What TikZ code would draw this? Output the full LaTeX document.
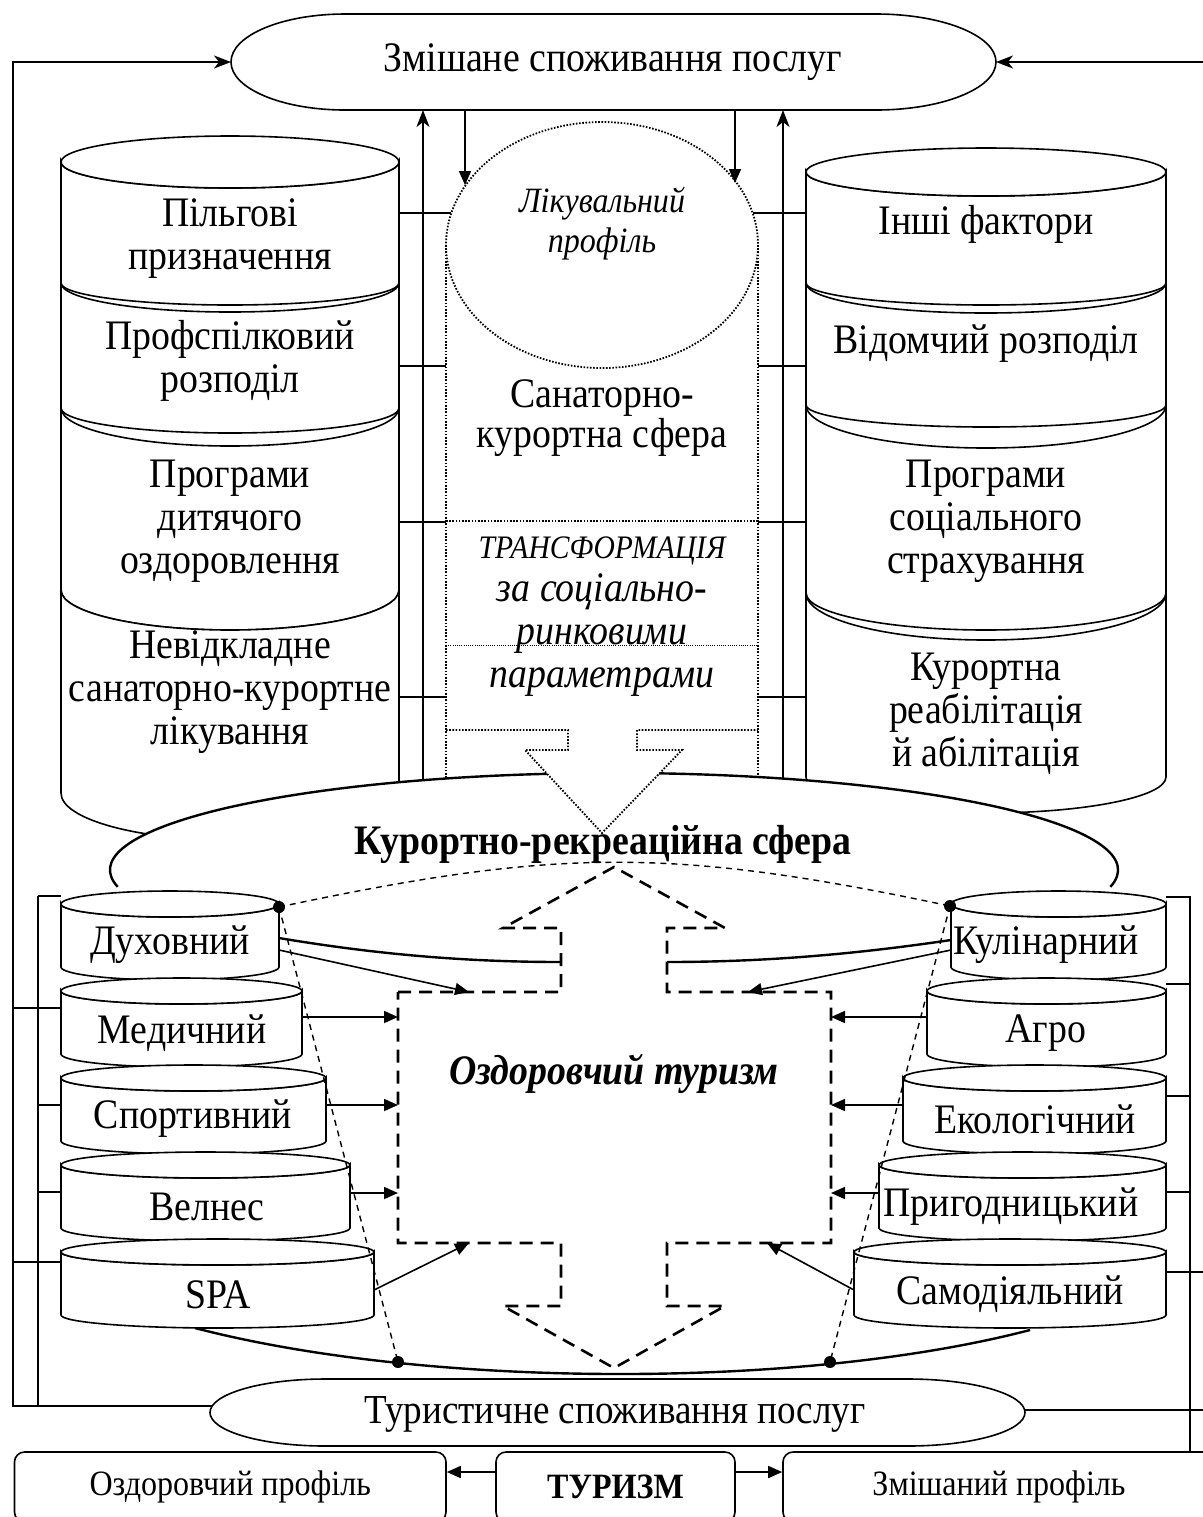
\documentclass[tikz,border=0pt]{standalone}
\usepackage{fontspec}
\setmainfont{Liberation Serif}[FakeStretch=0.9]
\usetikzlibrary{arrows.meta}

\tikzset{
  lbl/.style={font=\fontsize{21}{21.5}\selectfont},
  lblit/.style={font=\fontsize{21}{21.5}\selectfont\itshape},
  lblb/.style={font=\fontsize{21}{21.5}\selectfont\bfseries},
  lblbi/.style={font=\fontsize{21}{21.5}\selectfont\bfseries\itshape},
  lblsm/.style={font=\fontsize{17.8}{20}\selectfont},
  shp/.style={draw, fill=white},
  stl/.style={-{Stealth[length=8.5pt,width=6.5pt,inset=2.5pt]}},
  tri/.style={-{Triangle[length=7pt,width=6pt]}},
  dotln/.style={dash pattern=on 0.8pt off 0.8pt, line width=0.9pt},
  fineln/.style={dash pattern=on 0.5pt off 0.6pt, line width=0.5pt},
  guide/.style={dash pattern=on 3pt off 2.5pt, line width=0.7pt},
  crossln/.style={dash pattern=on 6.5pt off 4pt, line width=1.3pt},
  thk/.style={line width=1.2pt},
  knot/.style={circle, fill=black, minimum size=6pt},
  boxn/.style={draw, rounded corners=5pt, minimum height=35pt},
}

% one layer of a cylinder: x left, x right, y top, top radius, y bottom, bottom radius
\newcommand{\cylseg}[6]{\path[shp] (#1,#3) arc[start angle=180,end angle=0,x radius={(#2-#1)/2},y radius=#4] -- (#2,#5) arc[start angle=0,end angle=180,x radius={(#2-#1)/2},y radius=#6] -- cycle;}
% small cylinder with its lid
\newcommand{\tcyl}[3]{\cylseg{#1}{#2}{#3}{13}{#3+63}{13}\draw[fill=white] ({(#1+#2)/2},#3) ellipse[x radius={(#2-#1)/2},y radius=13];}

\begin{document}
\begin{tikzpicture}[x=0.5pt, y=-0.5pt, line width=0.8pt]
\tikzstyle{every node}=[align=center, inner sep=0pt]
\useasboundingbox (0,0) rectangle (1203,1517);
\clip (0,0) rectangle (1203,1517);
\fill[white] (0,0) rectangle (1203,1517);

% top: mixed consumption
\path[shp] (345,14) -- (876,14) arc[start angle=-90,end angle=90,x radius=120,y radius=48] -- (345,110) arc[start angle=90,end angle=270,x radius=114,y radius=48] -- cycle;
\node[lbl] (mix) at (613,62) {Змішане споживання послуг};
\coordinate (mixL) at (231,62);
\coordinate (mixR) at (996,62);

% vertical links to the top
\coordinate (upL) at (423,110);
\coordinate (upLb) at (423,800);
\coordinate (upR) at (783,110);
\coordinate (upRb) at (783,800);
\coordinate (dnL) at (465,110);
\coordinate (dnLe) at (465,185);
\coordinate (dnR) at (735,110);
\coordinate (dnRe) at (735,183);
\draw[stl] (upLb) -- (upL);
\draw[stl] (upRb) -- (upR);
\draw[tri] (dnL) -- (dnLe);
\draw[tri] (dnR) -- (dnRe);

% left stack
\cylseg{61}{399}{162}{26}{283}{22}
\draw[fill=white] (230,162) ellipse[x radius=169, y radius=26];
\cylseg{61}{399}{283}{29}{408}{25}
\cylseg{61}{399}{408}{38}{590}{40}
\cylseg{61}{399}{590}{40}{793}{47}
\node[lbl] (pilg) at (230,239) {Пільгові\\призначення};
\node[lbl] (prof) at (230,361) {Профспілковий\\розподіл};
\node[lbl] (dyt) at (230,521) {Програми\\дитячого\\оздоровлення};
\node[lbl] (nevid) at (230,692) {Невідкладне\\санаторно-курортне\\лікування};

% right stack
\cylseg{806}{1166}{172}{24}{283}{22}
\draw[fill=white] (986,172) ellipse[x radius=180, y radius=24];
\cylseg{806}{1166}{283}{30}{405}{22}
\cylseg{806}{1166}{405}{43}{593}{37}
\cylseg{806}{1166}{593}{47}{777}{36}
\node[lbl] (insh) at (986,224) {Інші фактори};
\node[lbl] (vidom) at (986,344) {Відомчий розподіл};
\node[lbl] (sots) at (986,521) {Програми\\соціального\\страхування};
\node[lbl] (kreab) at (986,714) {Курортна\\реабілітація\\й абілітація};

% middle column
\draw[dotln] (602,245) ellipse[x radius=156, y radius=123];
\coordinate (colL) at (446,245);
\coordinate (colLb) at (446,800);
\coordinate (colR) at (758,245);
\coordinate (colRb) at (758,800);
\draw[dotln] (colL) -- (colLb);
\draw[dotln] (colR) -- (colRb);
\draw[dotln] (446,521) -- (758,521);
\draw[fineln] (446,645) -- (758,645);
\node[font=\fontsize{17.8}{20}\selectfont\itshape] (likprof) at (602,224) {Лікувальний\\профіль};
\node[font=\fontsize{21}{20}\selectfont] (sank) at (602,418) {Санаторно-\\курортна сфера};
\node[font=\fontsize{16.4}{17}\selectfont\itshape] (transf) at (602,551) {ТРАНСФОРМАЦІЯ};
\node[lblit] (params) at (602,635) {за соціально-\\ринковими\\параметрами};

% links stacks -> column
\foreach \yy/\xa in {213/451, 366/446, 522/446, 697/446} {
  \draw (399,\yy) -- (\xa,\yy);
}
\foreach \yy/\xa in {213/753, 366/758, 522/758, 697/758} {
  \draw (\xa,\yy) -- (806,\yy);
}

% resort-recreation sphere
\fill[white] (614,870) ellipse[x radius=504, y radius=97];
\draw[thk] (117.7,886.8) arc[start angle=170, end angle=370, x radius=504, y radius=97];
\path[fill=white] (568,730) -- (568,750) -- (525,750) -- (602,833) -- (682,750) -- (637,750) -- (637,730) -- cycle;
\draw[dotln] (446,730) -- (568,730) -- (568,750) -- (525,750) -- (602,833) -- (682,750) -- (637,750) -- (637,730) -- (758,730);
\node[lblb] (kursf) at (603,844) {Курортно-рекреаційна сфера};

% lower rim
\draw[thk] (195,1328) .. controls (425,1388) and (800,1390) .. (1030,1330);

% health tourism cross
\path[crossln, draw, fill=white] (398,992) -- (561,992) -- (561,928) -- (503,928) -- (614,867) -- (725,928) -- (667,928) -- (667,992) -- (831,992) -- (831,1243) -- (667,1243) -- (667,1306) -- (725,1306) -- (614,1368) -- (503,1306) -- (561,1306) -- (561,1243) -- (398,1243) -- cycle;
\node[lblbi] (ozt) at (614,1074) {Оздоровчий туризм};

% small stacks
\tcyl{61}{279}{904}
\tcyl{61}{302}{991}
\tcyl{61}{326}{1078}
\tcyl{61}{350}{1165}
\tcyl{61}{374}{1252}
\tcyl{951}{1166}{904}
\tcyl{927}{1166}{991}
\tcyl{903}{1166}{1078}
\tcyl{879}{1166}{1165}
\tcyl{854}{1166}{1252}
\node[lbl] (duh) at (170,945) {Духовний};
\node[lbl] (med) at (182,1033) {Медичний};
\node[lbl] (sport) at (193,1119) {Спортивний};
\node[lbl] (veln) at (207,1207) {Велнес};
\node[lbl] (spa) at (218,1295) {SPA};
\node[lbl] (kul) at (1046,945) {Кулінарний};
\node[lbl] (agro) at (1046,1033) {Агро};
\node[lbl] (eko) at (1035,1119) {Екологічний};
\node[lbl] (pryg) at (1011,1207) {Пригодницький};
\node[lbl] (samo) at (1010,1294) {Самодіяльний};

% links into the cross
\draw[thk] (279,938) .. controls (380,955) and (470,962) .. (561,962);
\draw[thk] (951,940) .. controls (850,955) and (760,962) .. (667,962);
\draw[tri] (279,950) -- (469,992);
\draw[tri] (951,950) -- (748,992);
\foreach \xs/\yy in {302/1017, 326/1105, 350/1193} {
  \draw[tri] (\xs,\yy) -- (398,\yy);
}
\foreach \xs/\yy in {927/1017, 903/1105, 879/1193} {
  \draw[tri] (\xs,\yy) -- (831,\yy);
}
\draw[tri] (374,1290) -- (469,1243);
\draw[tri] (854,1290) -- (767,1243);

% guides
\node[knot] (kDuh) at (279,907) {};
\node[knot] (kKul) at (950,906) {};
\node[knot] (kBL) at (398,1362) {};
\node[knot] (kBR) at (830,1362) {};
\draw[guide] (kDuh.center) .. controls (557,848) and (672,847) .. (kKul.center);
\draw[guide] (kDuh.center) -- (kBL.center);
\draw[guide] (kKul.center) -- (kBR.center);

% tourist consumption
\path[shp] (325,1379) -- (908,1379) arc[start angle=-90,end angle=90,x radius=117,y radius=33.5] -- (325,1446) arc[start angle=90,end angle=270,x radius=115,y radius=33.5] -- cycle;
\node[font=\fontsize{20.6}{21.5}\selectfont] (turs) at (615,1414) {Туристичне споживання послуг};
\coordinate (tursL) at (212,1406);
\coordinate (tursR) at (1025,1410);

% left buses
\coordinate (busA) at (13,1406);
\coordinate (busAt) at (13,62);
\coordinate (busB) at (38,896);
\coordinate (busBb) at (38,1406);
\draw[stl] (tursL) -- (busA) -- (busAt) -- (mixL);
\draw (busB) -- (busBb);
\draw (38,896) -- (61,896);
\draw (13,1008) -- (61,1008);
\draw (38,1105) -- (61,1105);
\draw (38,1192) -- (61,1192);
\draw (13,1262) -- (61,1262);

% right buses
\coordinate (busC) at (1190,897);
\coordinate (busCb) at (1190,1452);
\draw (1166,897) -- (busC) -- (busCb);
\draw (1166,984) -- (1190,984);
\draw (1166,1096) -- (1190,1096);
\draw (1166,1192) -- (1190,1192);
\draw (1166,1272) -- (1203,1272);
\draw (tursR) -- (1203,1410);
\draw[stl] (1203,62) -- (mixR);

% tourism row
\node[boxn, lblsm, minimum width=215.75pt] (ozdp) at (230.25,1487) {Оздоровчий профіль};
\node[boxn, font=\fontsize{17.8}{20}\selectfont\bfseries, minimum width=119.5pt] (tur) at (615.5,1487) {ТУРИЗМ};
\node[boxn, lblsm, minimum width=216pt] (zmp) at (999,1487) {Змішаний профіль};
\draw[tri] ([yshift=7.5pt]tur.west) -- ([yshift=7.5pt]ozdp.east);
\draw[tri] ([yshift=7.5pt]tur.east) -- ([yshift=7.5pt]zmp.west);
\end{tikzpicture}
\end{document}
